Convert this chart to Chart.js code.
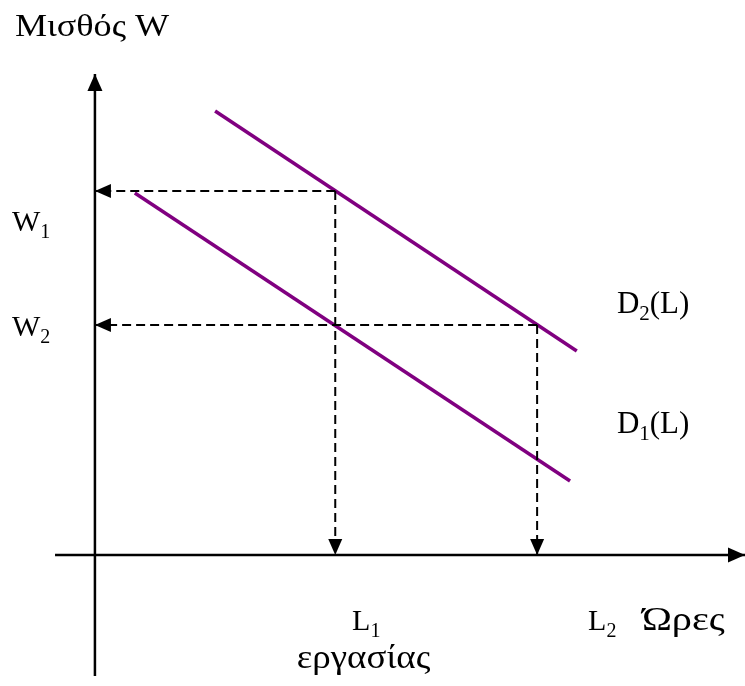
<!DOCTYPE html>
<html>
<head>
<meta charset="utf-8">
<script src="https://cdn.jsdelivr.net/npm/chart.js@4"></script>
<style>
  body { margin: 0; background: #fff; }
  canvas { display: block; }
</style>
</head>
<body>
<canvas id="chart" width="745" height="686"></canvas>
<script>
// Δεδομένα (μονάδες: ώρες εργασίας στον x, μισθός στον y)
const d1Hours = [1.66, 19.77];
const d1Wage = [18.1, 3.7];
const d2Hours = [5, 20.05];
const d2Wage = [22.2, 10.2];

const wageLevels = [18.2, 11.5]; // W1, W2
const hourLevels = [10, 18.4];   // L1, L2

// όρια αξόνων
const hourRange = [-3.95, 27.05];
const wageRange = [-6.55, 27.75];
const axisHours = [-1.66, 27.05];
const axisWage = [-6.05, 24.05];

// κείμενα του σχήματος: [κύριο, δείκτης, υπόλοιπο]
const texts = [
  { parts: ["Μισθός W", "", ""], x: -3.33, y: 25.95, size: 32, sx: 1.13 },
  { parts: ["W", "1", ""], x: -3.45, y: 16.2, size: 30, sx: 1 },
  { parts: ["W", "2", ""], x: -3.45, y: 10.95, size: 30, sx: 1 },
  { parts: ["D", "2", "(L)"], x: 21.72, y: 12.1, size: 31, sx: 1 },
  { parts: ["D", "1", "(L)"], x: 21.72, y: 6.1, size: 31, sx: 1 },
  { parts: ["L", "1", ""], x: 10.7, y: -3.75, size: 30, sx: 1 },
  { parts: ["L", "2", ""], x: 20.52, y: -3.75, size: 30, sx: 1 },
  { parts: ["Ώρες", "", ""], x: 22.76, y: -3.75, size: 33, sx: 1.22 },
  { parts: ["εργασίας", "", ""], x: 8.4, y: -5.65, size: 33, sx: 1.12 },
];

const PURPLE = "#800080";
const FONT = "'Liberation Serif', 'DejaVu Serif', serif";

function pts(xs, ys) {
  return xs.map((x, i) => ({ x: x, y: ys[i] }));
}

// βελάκι στο τέλος κάθε γραμμής που έχει arrow
const arrowPlugin = {
  id: "arrows",
  afterDatasetsDraw(chart) {
    const ctx = chart.ctx;
    chart.data.datasets.forEach((ds, i) => {
      if (!ds.arrow) return;
      const meta = chart.getDatasetMeta(i);
      const n = meta.data.length;
      const a = meta.data[n - 2];
      const b = meta.data[n - 1];
      const ang = Math.atan2(b.y - a.y, b.x - a.x);
      const len = ds.arrow.len;
      const half = ds.arrow.half;
      ctx.save();
      ctx.translate(b.x, b.y);
      ctx.rotate(ang);
      ctx.beginPath();
      ctx.moveTo(0, 0);
      ctx.lineTo(-len, -half);
      ctx.lineTo(-len, half);
      ctx.closePath();
      ctx.fillStyle = "#000";
      ctx.fill();
      ctx.restore();
    });
  },
};

const textPlugin = {
  id: "texts",
  afterDraw(chart) {
    const ctx = chart.ctx;
    const xs = chart.scales.x;
    const ys = chart.scales.y;
    ctx.fillStyle = "#000";
    ctx.textBaseline = "alphabetic";
    texts.forEach((t) => {
      ctx.save();
      ctx.translate(xs.getPixelForValue(t.x), ys.getPixelForValue(t.y));
      ctx.scale(t.sx, 1);
      let px = 0;
      ctx.font = t.size + "px " + FONT;
      ctx.fillText(t.parts[0], px, 0);
      px += ctx.measureText(t.parts[0]).width;
      if (t.parts[1]) {
        ctx.font = Math.round(t.size * 0.67) + "px " + FONT;
        ctx.fillText(t.parts[1], px, 7);
        px += ctx.measureText(t.parts[1]).width;
      }
      if (t.parts[2]) {
        ctx.font = t.size + "px " + FONT;
        ctx.fillText(t.parts[2], px, 0);
      }
      ctx.restore();
    });
  },
};

const dashed = { borderColor: "#000", borderWidth: 2, borderDash: [9, 5], arrow: { len: 16, half: 7 } };
const axisStyle = { borderColor: "#000", borderWidth: 2.5, arrow: { len: 17, half: 7.5 } };

const datasets = [
  Object.assign({ label: "y-axis", data: pts([0, 0], axisWage) }, axisStyle),
  Object.assign({ label: "x-axis", data: pts(axisHours, [0, 0]) }, axisStyle),
  Object.assign({ label: "W1", data: pts([hourLevels[0], 0], [wageLevels[0], wageLevels[0]]) }, dashed),
  Object.assign({ label: "L1", data: pts([hourLevels[0], hourLevels[0]], [wageLevels[0], 0]) }, dashed),
  Object.assign({ label: "W2", data: pts([hourLevels[1], 0], [wageLevels[1], wageLevels[1]]) }, dashed),
  Object.assign({ label: "L2", data: pts([hourLevels[1], hourLevels[1]], [wageLevels[1], 0]) }, dashed),
  { label: "D2(L)", data: pts(d2Hours, d2Wage), borderColor: PURPLE, borderWidth: 3.5 },
  { label: "D1(L)", data: pts(d1Hours, d1Wage), borderColor: PURPLE, borderWidth: 3.5 },
];

new Chart(document.getElementById("chart").getContext("2d"), {
  type: "line",
  data: { datasets: datasets },
  options: {
    responsive: false,
    animation: false,
    parsing: false,
    layout: { padding: 0 },
    elements: { point: { radius: 0, hoverRadius: 0 }, line: { tension: 0 } },
    scales: {
      x: { type: "linear", min: hourRange[0], max: hourRange[1], display: false },
      y: { type: "linear", min: wageRange[0], max: wageRange[1], display: false },
    },
    plugins: { legend: { display: false }, tooltip: { enabled: false } },
  },
  plugins: [arrowPlugin, textPlugin],
});
</script>
</body>
</html>
